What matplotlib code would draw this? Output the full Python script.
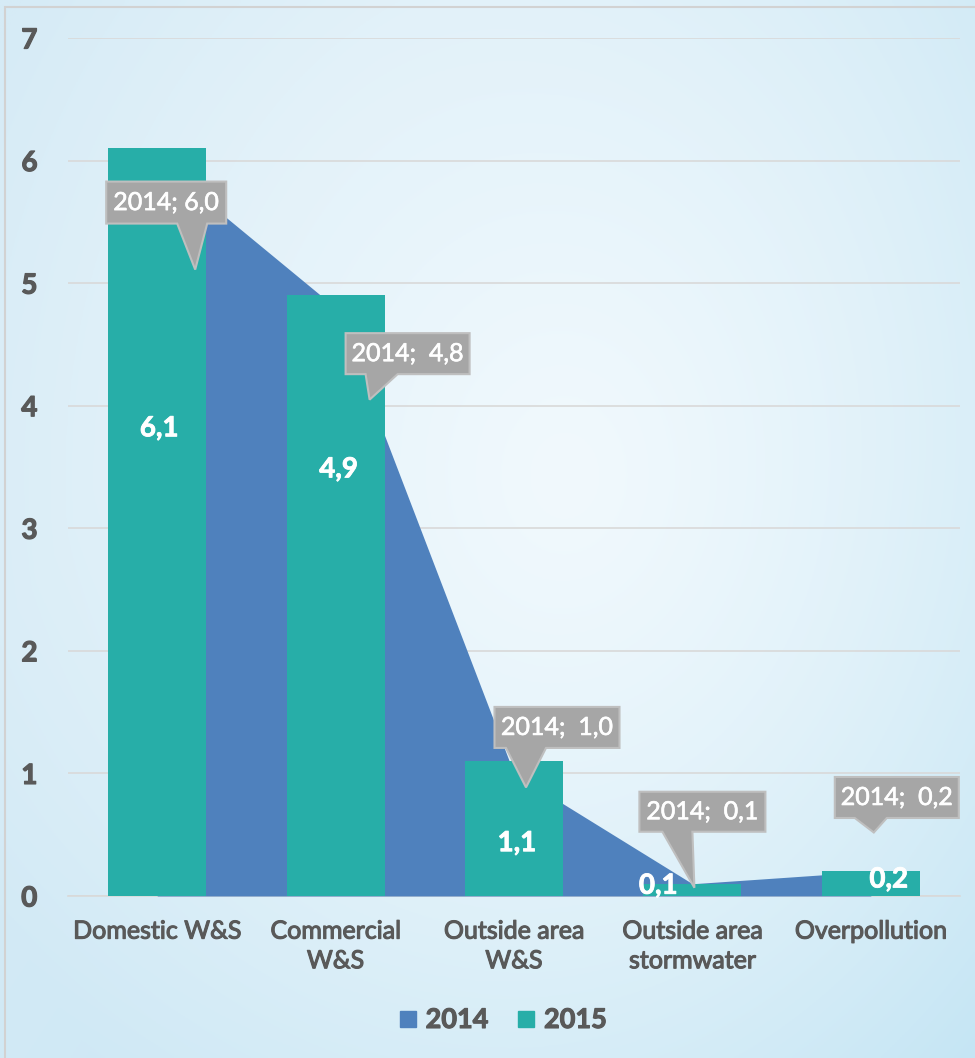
import numpy as np
import matplotlib
matplotlib.use("Agg")
import matplotlib.pyplot as plt
from matplotlib.patches import Polygon, Rectangle
from matplotlib.lines import Line2D
from matplotlib.transforms import ScaledTranslation
from matplotlib.colors import to_rgb
import matplotlib.patheffects as pe

plt.rcParams['font.family'] = ['Lato', 'DejaVu Sans']

# ---------------- data ----------------
categories = ["Domestic W&S", "Commercial\nW&S", "Outside area\nW&S",
              "Outside area\nstormwater", "Overpollution"]
values_2014 = [6.0, 4.8, 1.0, 0.1, 0.2]
values_2015 = [6.1, 4.9, 1.1, 0.1, 0.2]
labels_2014 = ["2014; 6,0", "2014;  4,8", "2014;  1,0", "2014;  0,1", "2014;  0,2"]
labels_2015 = ["6,1", "4,9", "1,1", "0,1", "0,2"]
series_names = ["2014", "2015"]
y_ticks = [0, 1, 2, 3, 4, 5, 6, 7]

# ---------------- styles / layout ----------------
C2014 = "#4F81BD"
C2015 = "#27AEA8"
TXT = "#595959"
CALLOUT = "#A6A6A6"
CALLOUT_EDGE = "#BFBFBF"

def thick(color, w=0.7):
    return [pe.withStroke(linewidth=w, foreground=color)]

W, H = 975, 1058
DPI = 100
fig = plt.figure(figsize=(W / DPI, H / DPI), dpi=DPI)

# background gradient
bg = fig.add_axes([0, 0, 1, 1], zorder=-10)
gy, gx = np.mgrid[0:1:400j, 0:1:400j]
d = np.sqrt(((gx - 0.58) / 1.0) ** 2 + ((gy - 0.45) / 1.15) ** 2)
t = np.clip(d / 0.68, 0, 1) ** 1.2
center = np.array(to_rgb("#f1f9fd"))
edge_a = np.array(to_rgb("#d6ebf6"))
edge_b = np.array(to_rgb("#bfe3f3"))
w_b = np.clip((gx * 0.7 + gy * 0.5) - 0.3, 0, 1)[..., None]
edge = edge_a * (1 - w_b) + edge_b * w_b
img = center * (1 - t[..., None]) + edge * t[..., None]
bg.imshow(img, extent=[0, 1, 0, 1], origin="upper", aspect="auto")
bg.set_xlim(0, 1)
bg.set_ylim(0, 1)
bg.axis("off")
bg.add_patch(Rectangle((5 / W, -0.1), 1.2, 1 - 7 / H + 0.1, fill=False,
                       edgecolor="#d2d2d2", lw=1.5, transform=bg.transAxes))

# main axes
ax = fig.add_axes([68 / W, (H - 896) / H, (960 - 68) / W, (896 - 38) / H])
ax.patch.set_alpha(0)
x = np.arange(len(categories))

ax.fill_between(x, values_2014, 0, color=C2014, lw=0, zorder=2)
ax.bar(x, values_2015, width=0.55, color=C2015, zorder=3)

ax.set_xlim(-0.5, len(categories) - 0.5)
ax.set_ylim(0, 7)
ax.set_yticks(y_ticks)
ax.set_yticklabels([str(v) for v in y_ticks], fontsize=20, fontweight="bold", color=TXT)
ax.set_xticks(x)
ax.set_xticklabels(categories, fontsize=18, color=TXT, linespacing=1.35)
for lab in ax.get_yticklabels():
    lab.set_path_effects(thick(TXT, 0.9))
for lab in ax.get_xticklabels():
    lab.set_path_effects(thick(TXT, 0.8))
ax.tick_params(axis="y", length=0, pad=22)
ax.tick_params(axis="x", length=0, pad=17)
ax.yaxis.grid(True, color="#d9d9d9", lw=1.2)
ax.set_axisbelow(True)
for s in ["left", "right", "top"]:
    ax.spines[s].set_visible(False)
ax.spines["bottom"].set_color("#d9d9d9")
ax.spines["bottom"].set_linewidth(1.2)
ax.spines["bottom"].set_zorder(1)

# callouts for 2014 (geometry in pixels, relative to data point)
box_offsets = [(9, -42), (72, -46), (43, 46), (10, 72), (26, 74)]
box_sizes = [(120, 42), (124, 41), (125, 41), (126, 40), (124, 41)]
ptr_bases = [(11, 41), (-42, -10), (-51, -11), (-40, -10), (-42, -10)]
ptr_tips = [(29, -67), (-38, -46), (-31, -60), (-8, -76), (-23, -35)]

for i, v in enumerate(values_2014):
    tr = fig.dpi_scale_trans + ScaledTranslation(x[i], v, ax.transData)
    bx, by = box_offsets[i]
    bw, bh = box_sizes[i]
    b0, b1 = ptr_bases[i]
    tx, ty = ptr_tips[i]
    pts = [(bx - bw / 2, by + bh / 2), (bx + bw / 2, by + bh / 2),
           (bx + bw / 2, by - bh / 2), (bx + b1, by - bh / 2),
           (bx + tx, by + ty), (bx + b0, by - bh / 2),
           (bx - bw / 2, by - bh / 2)]
    pts = [(px / DPI, py / DPI) for px, py in pts]
    ax.add_patch(Polygon(pts, closed=True, facecolor=CALLOUT, edgecolor=CALLOUT_EDGE,
                         lw=1.5, transform=tr, zorder=6, clip_on=False))
    ax.text(bx / DPI, by / DPI, labels_2014[i], transform=tr, ha="center", va="center",
            color="white", fontsize=18, zorder=7, clip_on=False,
            path_effects=thick("white", 0.45))

# 2015 labels (offsets in pixels from bar top)
lab_offsets = [(2, -280), (3, -174), (3, -82), (-34, -2), (18, -8)]
for i, v in enumerate(values_2015):
    tr = fig.dpi_scale_trans + ScaledTranslation(x[i], v, ax.transData)
    dx, dy = lab_offsets[i]
    ax.text(dx / DPI, dy / DPI, labels_2015[i], transform=tr, ha="center", va="center",
            color="white", fontsize=20, fontweight="bold", zorder=5, clip_on=False,
            path_effects=thick("white", 0.6))

# legend
handles = [Line2D([], [], marker="s", ls="", markersize=12, markerfacecolor=C2014,
                  markeredgecolor=C2014),
           Line2D([], [], marker="s", ls="", markersize=12, markerfacecolor=C2015,
                  markeredgecolor=C2015)]
leg = fig.legend(handles, series_names, loc="center", bbox_to_anchor=(502 / W, 1 - 1020 / H),
                 ncol=2, frameon=False, prop={"size": 19.5, "weight": "bold"},
                 handletextpad=0.25, columnspacing=1.0, handlelength=0.8)
for txt in leg.get_texts():
    txt.set_color(TXT)
    txt.set_path_effects(thick(TXT, 0.8))

fig.savefig("out.png", dpi=DPI)
